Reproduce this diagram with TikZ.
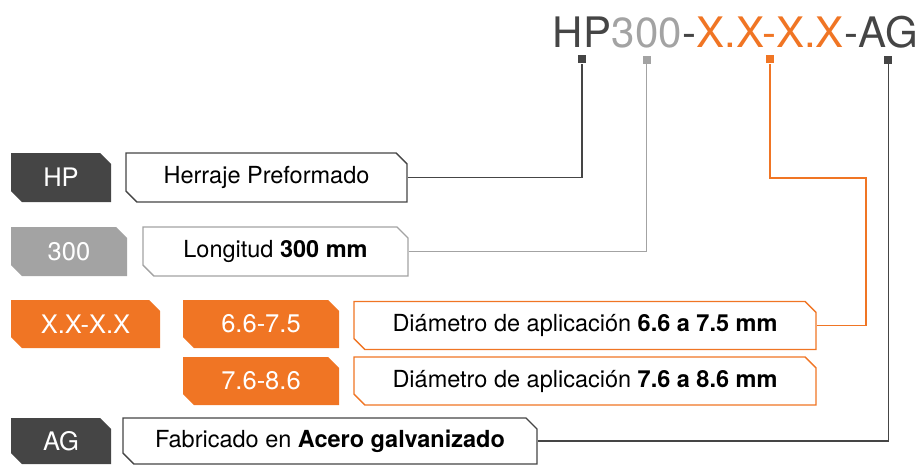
\documentclass[tikz,border=0pt]{standalone}
\usepackage{fontspec}
\setmainfont{TeX Gyre Heros}
\usetikzlibrary{positioning,shapes.misc}

\definecolor{darkgrey}{HTML}{454545}
\definecolor{lightgrey}{HTML}{A3A3A3}
\definecolor{hporange}{HTML}{F07524}

\tikzset{
  chamf/.style={chamfered rectangle, chamfered rectangle corners={north east,south west},
    chamfered rectangle xsep=7.5pt, chamfered rectangle angle=45, inner sep=0pt},
  tag/.style={chamf, fill=#1, text=white, minimum height=49pt,
    font=\fontsize{25.5}{30}\selectfont},
  desc/.style={chamf, draw=#1, line width=1.4pt, fill=white, text=black,
    minimum height=49pt, font=\fontsize{23.5}{28}\selectfont},
  part/.style={inner sep=0pt, text=#1, font=\fontsize{42}{50}\selectfont},
  marker/.style={rectangle, fill=#1, inner sep=0pt, minimum size=8pt},
  link/.style={draw=#1, line width=1.4pt},
}

\begin{document}
\begin{tikzpicture}[x=1pt,y=-1pt]
  \useasboundingbox (0,0) rectangle (923,464);

  % code on top
  \node[part=darkgrey, anchor=base east] (tAG) at (918,47) {AG};
  \node[part=darkgrey, base left=0pt of tAG] (tDb) {-};
  \node[part=hporange, base left=0pt of tDb] (tXX) {X.X-X.X};
  \node[part=darkgrey, base left=0pt of tXX] (tDa) {-};
  \node[part=lightgrey, base left=0pt of tDa] (t300) {300};
  \node[part=darkgrey, base left=0pt of t300] (tHP) {HP};

  \node[marker=darkgrey, below=8pt of tHP] (mHP) {};
  \node[marker=lightgrey, below=8pt of t300] (m300) {};
  \node[marker=hporange, below=8pt of tXX] (mXX) {};
  \node[marker=darkgrey, below=8pt of tAG] (mAG) {};

  % rows
  \node[tag=darkgrey, minimum width=100pt] (HPt) at (61,177.5) {HP};
  \node[desc=darkgrey, minimum width=281pt] (HPd) at (266.5,177.5) {Herraje Preformado};

  \node[tag=lightgrey, minimum width=116pt] (L300t) at (69,251.5) {300};
  \node[desc=lightgrey, minimum width=265pt] (L300d) at (275.5,251.5) {Longitud \textbf{300 mm}};

  \node[tag=hporange, minimum width=149pt, minimum height=48pt] (XXt) at (85.5,324) {X.X-X.X};
  \node[tag=hporange, minimum width=156pt, minimum height=48pt] (D1t) at (261,324) {6.6-7.5};
  \node[desc=hporange, minimum width=462pt, minimum height=48pt] (D1d) at (585,325.5)
    {Diámetro de aplicación \textbf{6.6 a 7.5 mm}};
  \node[tag=hporange, minimum width=156pt, minimum height=48pt] (D2t) at (261,381) {7.6-8.6};
  \node[desc=hporange, minimum width=462pt, minimum height=48pt] (D2d) at (585,381)
    {Diámetro de aplicación \textbf{7.6 a 8.6 mm}};

  \node[tag=darkgrey, minimum width=100pt, minimum height=46pt] (AGt) at (61,441) {AG};
  \node[desc=darkgrey, minimum width=414pt, minimum height=46pt] (AGd) at (330,441)
    {Fabricado en \textbf{Acero galvanizado}};

  % connectors
  \coordinate (kXX) at (866,178);
  \draw[link=darkgrey] (HPd.east) -| (mHP);
  \draw[link=lightgrey] (L300d.east) -| (m300);
  \draw[link=hporange] (D1d.east) -| (kXX) -| (mXX);
  \draw[link=darkgrey] (AGd.east) -| (mAG);
\end{tikzpicture}
\end{document}
